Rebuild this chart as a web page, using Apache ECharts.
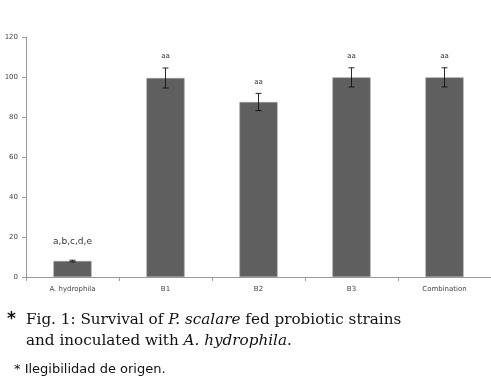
<!DOCTYPE html>
<html>
<head>
<meta charset="utf-8">
<script src="https://cdn.jsdelivr.net/npm/echarts@6/dist/echarts.min.js"></script>
<style>
  html, body { margin: 0; padding: 0; background: #fff; }
  #chart { width: 491px; height: 390px; }
</style>
</head>
<body>
<div id="chart"></div>
<script>
// survival (%) per treatment
const categories = ['A. hydrophila', 'B1', 'B2', 'B3', 'Combination'];
const survival = [8, 99.5, 87.5, 99.8, 99.8];
const errors = [0.4, 5, 4.3, 4.8, 4.8];
const letters = ['a,b,c,d,e', 'aa', 'aa', 'aa', 'aa'];
const yTicks = [0, 20, 40, 60, 80, 100, 120];

const chart = echarts.init(document.getElementById('chart'));

const errData = categories.map((c, i) => [i, survival[i], errors[i]]);

const option = {
  animation: false,
  grid: { left: 26, right: 0, top: 37, bottom: 113 },
  xAxis: {
    type: 'category',
    data: categories,
    axisLine: { lineStyle: { color: '#999' } },
    axisTick: { show: true, length: 4, lineStyle: { color: '#999' } },
    axisLabel: { fontSize: 7, color: '#444', fontFamily: 'DejaVu Sans', margin: 9 }
  },
  yAxis: {
    type: 'value',
    min: yTicks[0], max: yTicks[yTicks.length - 1], interval: 20,
    axisLine: { show: true, lineStyle: { color: '#999' } },
    axisTick: { show: true, length: 4, lineStyle: { color: '#999' } },
    splitLine: { show: false },
    axisLabel: { fontSize: 7, color: '#444', fontFamily: 'DejaVu Sans', margin: 8 }
  },
  series: [
    {
      type: 'bar',
      data: survival,
      barWidth: '41%',
      itemStyle: { color: '#5f5f5f', borderColor: '#9a9a9a', borderWidth: 0.6 }
    },
    {
      type: 'custom',
      data: errData,
      z: 5,
      renderItem: function (params, api) {
        const x = api.value(0);
        const v = api.value(1);
        const e = api.value(2);
        const hi = api.coord([x, v + e]);
        const lo = api.coord([x, v - e]);
        const cap = 3;
        const isFirst = x === 0;
        const st = { stroke: '#111', lineWidth: 0.9 };
        return {
          type: 'group',
          children: [
            { type: 'line', shape: { x1: hi[0], y1: hi[1], x2: lo[0], y2: lo[1] }, style: st },
            { type: 'line', shape: { x1: hi[0] - cap, y1: hi[1], x2: hi[0] + cap, y2: hi[1] }, style: st },
            { type: 'line', shape: { x1: lo[0] - cap, y1: lo[1], x2: lo[0] + cap, y2: lo[1] }, style: st },
            {
              type: 'text',
              style: {
                text: letters[x],
                x: hi[0],
                y: hi[1] - (isFirst ? 14 : 8),
                align: 'center',
                verticalAlign: 'bottom',
                fontSize: isFirst ? 9 : 7,
                fontFamily: 'DejaVu Sans',
                fill: '#333'
              }
            }
          ]
        };
      }
    }
  ],
  graphic: [
    { type: 'text', left: 7, top: 311, style: { text: '*', fontSize: 17, fontWeight: 'bold', fontFamily: 'DejaVu Sans', fill: '#111' } },
    {
      type: 'text', left: 26, top: 310,
      style: {
        text: '{n|Fig. 1: Survival of }{i|P. scalare}{n| fed probiotic strains}\n{n|and inoculated with }{i|A. hydrophila}{n|.}',
        lineHeight: 21,
        rich: {
          n: { fontSize: 15.2, fontFamily: 'DejaVu Serif', fill: '#111', lineHeight: 21 },
          i: { fontSize: 15.2, fontFamily: 'DejaVu Serif', fontStyle: 'italic', fill: '#111', lineHeight: 21 }
        }
      }
    },
    { type: 'text', left: 14, top: 363, style: { text: '* Ilegibilidad de origen.', fontSize: 13, fontFamily: 'DejaVu Sans', fill: '#111' } }
  ]
};

chart.setOption(option);
</script>
</body>
</html>
